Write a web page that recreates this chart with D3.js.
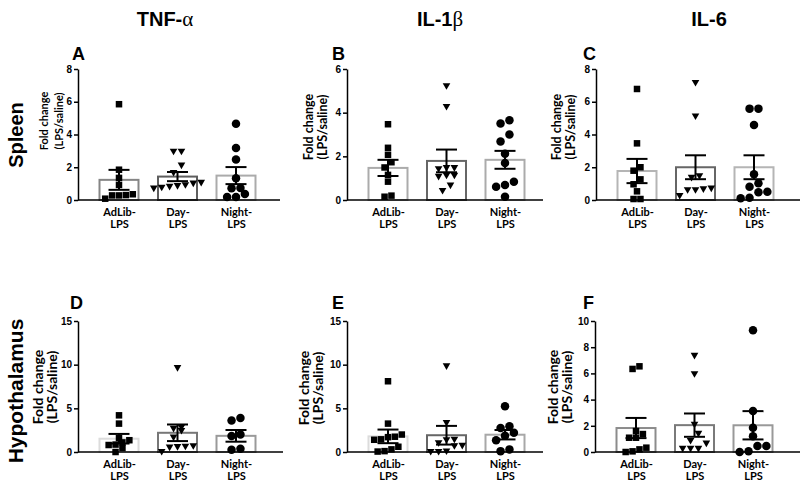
<!DOCTYPE html>
<html><head><meta charset="utf-8">
<script src="https://cdn.jsdelivr.net/npm/d3@7"></script>
<style>body{margin:0;background:#fff}svg{display:block}</style>
</head><body><svg id="c" width="800" height="487"></svg>
<script>
// ---------- data ----------
const groups = ["AdLib-LPS", "Day-LPS", "Night-LPS"];
const cytokines = ["TNF-", "IL-1", "IL-6"];
const greek = ["α", "β", ""];
const tissues = ["Spleen", "Hypothalamus"];
const panelLetters = ["A", "B", "C", "D", "E", "F"];
const yMax = [8, 6, 8, 15, 15, 10];
const yTicks = [[0,2,4,6,8],[0,2,4,6],[0,2,4,6,8],[0,5,10,15],[0,5,10,15],[0,2,4,6,8,10]];

// individual fold-change values per group [AdLib, Day, Night]
const valuesA = [[5.85,1.85,1.35,0.92,0.35,0.28,0.08,0.28,0.3],
                 [3.0,3.0,2.15,1.7,1.1,0.95,0.85,0.75,0.8,0.9,1.05],
                 [4.66,3.17,2.47,1.33,0.74,0.72,0.37,0.18,0.18]];
const valuesB = [[3.47,2.39,2.07,1.73,1.49,1.15,0.84,0.15,0.2],
                 [5.25,4.3,1.5,1.45,1.5,1.15,1.1,1.15,0.7,0.45],
                 [3.65,3.5,3.0,2.68,2.12,1.69,0.84,0.69,0.61,0.15]];
const valuesC = [[6.78,3.46,2.0,1.79,1.26,0.96,0.53,0.06,0.06],
                 [7.2,5.15,1.5,1.4,0.65,0.75,0.3,0.65,0.7],
                 [5.58,5.58,4.58,1.57,0.81,1.02,0.47,0.5,0.14,0.1]];
const valuesD = [[4.2,3.25,1.6,1.35,1.1,0.85,0.8,0.45,0.0],
                 [9.7,2.9,2.75,2.5,1.75,0.7,0.6,0.65,0.75,0.1],
                 [3.88,3.61,2.0,1.82,0.38,0.27]];
const valuesE = [[8.1,3.25,2.0,1.7,1.75,1.45,1.4,0.6,0.3,0.05,0.1],
                 [9.9,3.4,1.5,1.45,1.1,0.8,0.75,0.15,0.1,0.1],
                 [5.25,2.95,2.75,2.2,1.85,1.35,0.3,0.1]];
const valuesF = [[6.34,6.54,1.6,1.09,1.09,1.37,0.2,0,0.05,0.33],
                 [7.4,6.0,2.15,1.45,0.9,0.7,0.3,0.3,0.3],
                 [9.29,3.13,1.86,1.2,0.46,0.46,0,0.05]];

// bar heights (mean) and SEM
const meanA = [1.23,1.43,1.49], semA = [0.61,0.28,0.52];
const meanB = [1.47,1.79,1.84], semB = [0.37,0.52,0.41];
const meanC = [1.77,2.0,2.0],   semC = [0.74,0.73,0.73];
const meanD = [1.52,2.2,1.85],  semD = [0.55,0.95,0.67];
const meanE = [1.79,1.92,1.98], semE = [0.78,1.07,0.54];
const meanF = [1.83,2.05,2.04], semF = [0.77,0.89,1.08];

const panels = [
  {vals: valuesA, mean: meanA, sem: semA},
  {vals: valuesB, mean: meanB, sem: semB},
  {vals: valuesC, mean: meanC, sem: semC},
  {vals: valuesD, mean: meanD, sem: semD},
  {vals: valuesE, mean: meanE, sem: semE},
  {vals: valuesF, mean: meanF, sem: semF}
];

// ---------- layout / style ----------
const axisX = [78, 347, 596, 78, 347, 595];
const axisEnd = [280, 543, 800, 283, 543, 800];
const rowTop = [69, 321], rowBot = [200, 452];
const barStroke = [["#858585","#5e5e5e","#ababab"],["#ababab","#666666","#ababab"],
                   ["#b5b5b5","#666666","#b5b5b5"],["#dcdcdc","#777777","#9a9a9a"],
                   ["#dcdcdc","#666666","#a8a8a8"],["#8c8c8c","#7a7a7a","#999999"]];
const ylabelSize = [11, 12.5, 12.5, 14, 14, 14];
const ylabelPos = [[44,59,121],[309,323,127],[557,571,127],[38,52,387],[304,318,388],[553,567,387]];
const letterPos = [[72,60],[332,60],[583,60],[70,309],[332,309],[583,309]];
const headerX = [165, 440, 709];
const tissueY = [135, 391];
const tissueSize = [20, 21];
const markerSize = [6.5, 7.5, 8.5];

const svg = d3.select("#c");
const bold = "'Liberation Sans', Arial, sans-serif";
const lato = "Lato, 'Open Sans', sans-serif";

// column headers
cytokines.forEach((c, i) => {
  const t = svg.append("text").attr("x", headerX[i]).attr("y", 26)
    .attr("text-anchor", "middle").attr("font-family", bold)
    .attr("font-weight", "bold").attr("font-size", 20).text(c);
  if (greek[i]) t.append("tspan").attr("font-family", "'Liberation Serif','DejaVu Serif',serif")
      .attr("font-weight", "normal").attr("font-size", 21).text(greek[i]);
});
// row labels
tissues.forEach((t, i) => {
  svg.append("text").attr("transform", `translate(23,${tissueY[i]}) rotate(-90)`)
    .attr("text-anchor", "middle").attr("font-family", bold).attr("font-weight", "bold")
    .attr("font-size", tissueSize[i]).text(t);
});

function swarm(vals, y, size) {
  const pts = vals.map(v => ({v, py: y(v)})).sort((a, b) => b.py - a.py);
  const rows = []; let cur = null;
  pts.forEach(p => {
    if (cur && cur[0].py - p.py < size) cur.push(p); else { cur = [p]; rows.push(cur); }
  });
  const step = size + 0.4;
  rows.forEach(r => r.forEach((p, k) => p.dx = (k - (r.length - 1) / 2) * step));
  return pts;
}

panels.forEach((p, i) => {
  const row = Math.floor(i / 3);
  const g = svg.append("g");
  const y = d3.scaleLinear().domain([0, yMax[i]]).range([rowBot[row], rowTop[row]]);
  const x = d3.scalePoint().domain(groups).range([axisX[i] + 41, axisX[i] + 158]);
  const bw = 41;

  // bars
  g.selectAll("rect.bar").data(groups).join("rect")
    .attr("x", d => x(d) - bw / 2 + 1).attr("width", bw - 2)
    .attr("y", (d, j) => y(p.mean[j])).attr("height", (d, j) => y(0) - y(p.mean[j]))
    .attr("fill", "#fff").attr("stroke", (d, j) => barStroke[i][j]).attr("stroke-width", 2);

  // points
  groups.forEach((gname, j) => {
    const s = markerSize[j];
    const pts = swarm(p.vals[j], y, s);
    const cx = x(gname);
    if (j === 0) {
      g.selectAll(null).data(pts).join("rect")
        .attr("x", d => cx + d.dx - s / 2).attr("y", d => d.py - s / 2)
        .attr("width", s).attr("height", s).attr("fill", "#000");
    } else if (j === 1) {
      const tri = d3.symbol(d3.symbolTriangle, s * s * 0.45);
      g.selectAll(null).data(pts).join("path")
        .attr("d", tri).attr("transform", d => `translate(${cx + d.dx},${d.py}) rotate(180)`)
        .attr("fill", "#000");
    } else {
      g.selectAll(null).data(pts).join("circle")
        .attr("cx", d => cx + d.dx).attr("cy", d => d.py).attr("r", s / 2).attr("fill", "#000");
    }
  });

  // error bars
  groups.forEach((gname, j) => {
    const cx = x(gname), hi = y(p.mean[j] + p.sem[j]), lo = y(p.mean[j] - p.sem[j]);
    const eb = g.append("g").attr("stroke", "#000").attr("stroke-width", 2);
    eb.append("line").attr("x1", cx).attr("x2", cx).attr("y1", hi).attr("y2", lo);
    eb.append("line").attr("x1", cx - 10.5).attr("x2", cx + 10.5).attr("y1", hi).attr("y2", hi);
    eb.append("line").attr("x1", cx - 10.5).attr("x2", cx + 10.5).attr("y1", lo).attr("y2", lo);
  });

  // y axis
  const ya = g.append("g").attr("transform", `translate(${axisX[i]},0)`)
    .call(d3.axisLeft(y).tickValues(yTicks[i]).tickFormat(d3.format("d"))
      .tickSize(4).tickSizeOuter(0).tickPadding(2));
  ya.select(".domain").attr("stroke-width", 1.5);
  ya.selectAll(".tick line").attr("stroke-width", 1.5);
  ya.selectAll(".tick text").attr("font-family", bold).attr("font-weight", "bold")
    .attr("font-size", 10).attr("fill", "#000");

  // x axis
  const xa = g.append("g").attr("transform", `translate(0,${y(0)})`)
    .call(d3.axisBottom(x).tickSize(0).tickPadding(0));
  xa.select(".domain").remove();
  xa.selectAll(".tick text").each(function(d) {
    const parts = d.split("-");
    const t = d3.select(this).text(null).attr("y", 0).attr("dy", null)
      .attr("font-family", lato).attr("font-weight", "bold").attr("font-size", 11).attr("fill", "#000");
    t.append("tspan").attr("x", 0).attr("y", 16).text(parts[0] + "-");
    t.append("tspan").attr("x", 0).attr("y", 27.5).text(parts[1]);
  });
  g.append("line").attr("x1", axisX[i]).attr("x2", axisEnd[i])
    .attr("y1", y(0)).attr("y2", y(0)).attr("stroke", "#000").attr("stroke-width", 1.5);

  // y label
  const [lx1, lx2, ly] = ylabelPos[i];
  const fs = ylabelSize[i];
  [["Fold change", lx1], ["(LPS/saline)", lx2]].forEach(([txt, lx]) => {
    g.append("text").attr("transform", `translate(${lx + fs * 0.33},${ly}) rotate(-90)`)
      .attr("text-anchor", "middle").attr("font-family", lato).attr("font-weight", "bold")
      .attr("font-size", fs).text(txt);
  });

  // panel letter
  svg.append("text").attr("x", letterPos[i][0]).attr("y", letterPos[i][1])
    .attr("font-family", bold).attr("font-weight", "bold").attr("font-size", 18)
    .text(panelLetters[i]);
});
</script></body></html>
